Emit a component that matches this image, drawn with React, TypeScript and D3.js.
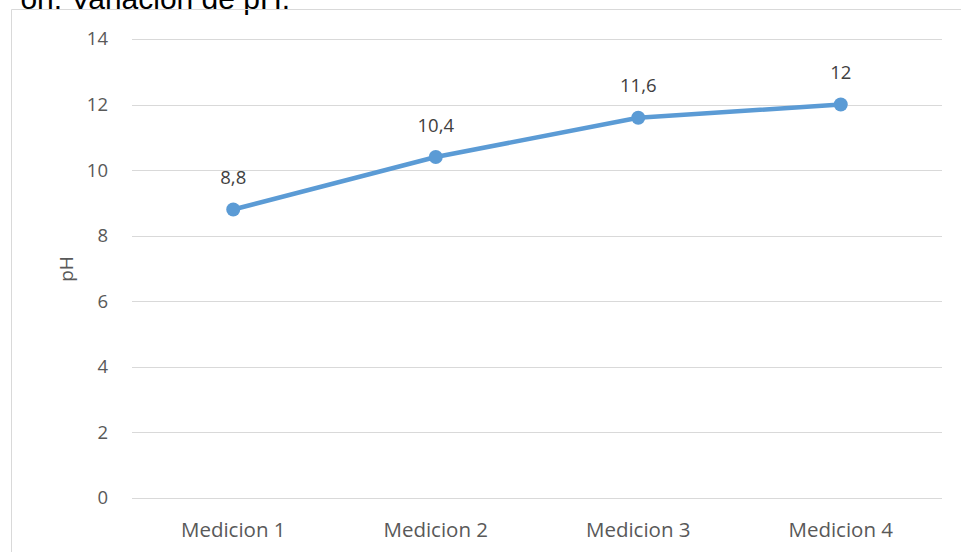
import React from "react";
import * as d3 from "d3";

const categories = ["Medicion 1", "Medicion 2", "Medicion 3", "Medicion 4"];
const phValues = [8.8, 10.4, 11.6, 12];
const dataLabels = ["8,8", "10,4", "11,6", "12"];
const yTicks = [0, 2, 4, 6, 8, 10, 12, 14];
const titleText = "ón: Variación de pH.";
const yAxisTitle = "pH";

const W = 961;
const H = 552;
const plot = { left: 132, right: 942, top: 39, bottom: 498 };
const font = "'Open Sans', 'Liberation Sans', sans-serif";

export default function App() {
  const x = d3
    .scaleBand<string>()
    .domain(categories)
    .range([plot.left, plot.right]);
  const y = d3.scaleLinear().domain([0, 14]).range([plot.bottom, plot.top]);
  const line = d3
    .line<number>()
    .x((_, i) => (x(categories[i]) as number) + x.bandwidth() / 2)
    .y((d) => y(d));

  return (
    <svg
      width={W}
      height={H}
      style={{ position: "absolute", left: 0, top: 0, background: "#fff" }}
    >
      <rect x={0} y={0} width={W} height={H} fill="#fff" />
      <text
        x={290}
        y={9}
        textAnchor="end"
        fontFamily="'Liberation Sans', Arial, sans-serif"
        fontSize={30}
        fill="#000"
      >
        {titleText}
      </text>
      <line x1={11.5} y1={9.5} x2={W} y2={9.5} stroke="#D9D9D9" strokeWidth={1} />
      <line x1={11.5} y1={9.5} x2={11.5} y2={H} stroke="#D9D9D9" strokeWidth={1} />
      {yTicks.map((t) => (
        <g key={t}>
          <line
            x1={plot.left}
            x2={plot.right}
            y1={Math.round(y(t)) + 0.5}
            y2={Math.round(y(t)) + 0.5}
            stroke="#D9D9D9"
            strokeWidth={1}
          />
          <text
            x={108}
            y={y(t)}
            dy="0.35em"
            textAnchor="end"
            fontFamily={font}
            fontSize={18.5}
            fill="#595959"
          >
            {t}
          </text>
        </g>
      ))}
      {categories.map((c) => (
        <text
          key={c}
          x={(x(c) as number) + x.bandwidth() / 2}
          y={530}
          dy="0.35em"
          textAnchor="middle"
          fontFamily={font}
          fontSize={20.5}
          fill="#595959"
        >
          {c}
        </text>
      ))}
      <text
        transform={`translate(66,269) rotate(-90)`}
        textAnchor="middle"
        dy="0.35em"
        fontFamily={font}
        fontSize={19}
        fill="#595959"
      >
        {yAxisTitle}
      </text>
      <path
        d={line(phValues) || ""}
        fill="none"
        stroke="#5B9BD5"
        strokeWidth={4.5}
        strokeLinejoin="round"
        strokeLinecap="round"
      />
      {phValues.map((v, i) => {
        const cx = (x(categories[i]) as number) + x.bandwidth() / 2;
        return (
          <g key={i}>
            <circle cx={cx} cy={y(v)} r={7} fill="#5B9BD5" />
            <text
              x={cx}
              y={y(v) - 32}
              dy="0.35em"
              textAnchor="middle"
              fontFamily={font}
              fontSize={18.5}
              fill="#404040"
            >
              {dataLabels[i]}
            </text>
          </g>
        );
      })}
    </svg>
  );
}
